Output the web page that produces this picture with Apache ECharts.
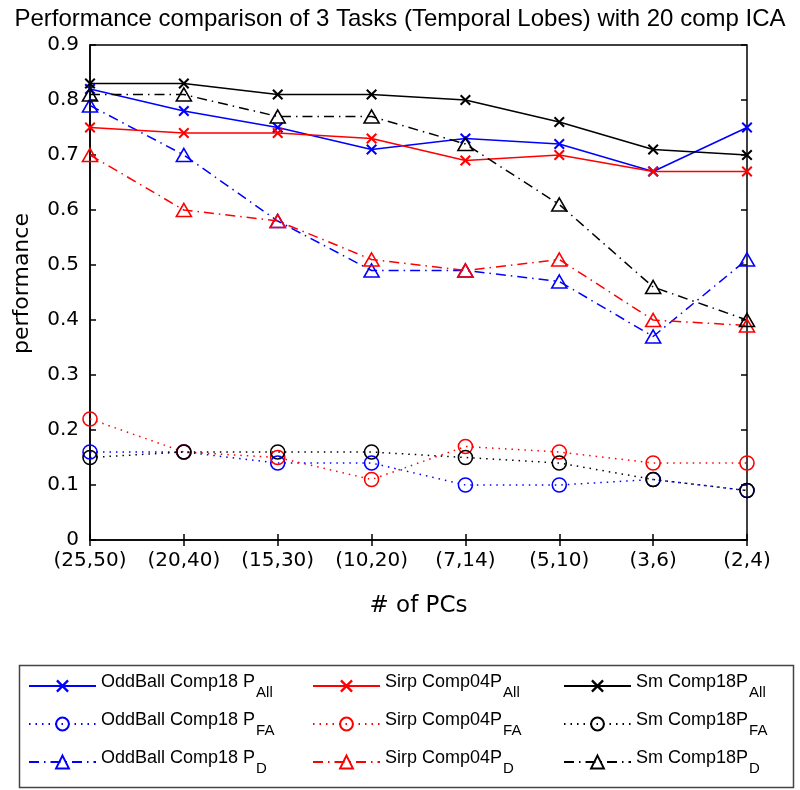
<!DOCTYPE html>
<html><head><meta charset="utf-8">
<script src="https://cdn.jsdelivr.net/npm/echarts@6/dist/echarts.min.js"></script>
<style>html,body{margin:0;padding:0;background:#fff}#c{width:800px;height:790px}</style>
</head><body><div id="c"></div>
<script>
const categories = ['(25,50)', '(20,40)', '(15,30)', '(10,20)', '(7,14)', '(5,10)', '(3,6)', '(2,4)'];
const yTickLabels = ['0', '0.1', '0.2', '0.3', '0.4', '0.5', '0.6', '0.7', '0.8', '0.9'];

const oddballAll = [0.82, 0.78, 0.75, 0.71, 0.73, 0.72, 0.67, 0.75];
const oddballFA  = [0.16, 0.16, 0.14, 0.14, 0.10, 0.10, 0.11, 0.09];
const oddballD   = [0.79, 0.70, 0.58, 0.49, 0.49, 0.47, 0.37, 0.51];
const sirpAll    = [0.75, 0.74, 0.74, 0.73, 0.69, 0.70, 0.67, 0.67];
const sirpFA     = [0.22, 0.16, 0.15, 0.11, 0.17, 0.16, 0.14, 0.14];
const sirpD      = [0.70, 0.60, 0.58, 0.51, 0.49, 0.51, 0.40, 0.39];
const smAll      = [0.83, 0.83, 0.81, 0.81, 0.80, 0.76, 0.71, 0.70];
const smFA       = [0.15, 0.16, 0.16, 0.16, 0.15, 0.14, 0.11, 0.09];
const smD        = [0.81, 0.81, 0.77, 0.77, 0.72, 0.61, 0.46, 0.40];

const legendCols = [
  ['OddBall Comp18 P_All', 'OddBall Comp18 P_FA', 'OddBall Comp18 P_D'],
  ['Sirp Comp04P_All', 'Sirp Comp04P_FA', 'Sirp Comp04P_D'],
  ['Sm Comp18P_All', 'Sm Comp18P_FA', 'Sm Comp18P_D']
];

const X_PATH = 'path://M0,1.3L1.3,0L5,3.7L8.7,0L10,1.3L6.3,5L10,8.7L8.7,10L5,6.3L1.3,10L0,8.7L3.7,5Z';
const DOTTED = [1.5, 5];
const DASHDOT = [10, 5, 1.5, 5];

function mk(name, data, color, kind) {
  const s = {
    name: name, type: 'line', data: data, showSymbol: true, showAllSymbol: true,
    xAxisIndex: 0, yAxisIndex: 0, animation: false,
    emphasis: { disabled: true }
  };
  if (kind === 'all') {
    s.symbol = X_PATH; s.symbolSize = 11;
    s.itemStyle = { color: color, borderWidth: 0 };
    s.lineStyle = { color: color, width: 1.6, type: 'solid' };
  } else if (kind === 'fa') {
    s.symbol = 'circle'; s.symbolSize = 14;
    s.itemStyle = { color: 'rgba(0,0,0,0)', borderColor: color, borderWidth: 1.6 };
    s.lineStyle = { color: color, width: 1.5, type: DOTTED };
  } else {
    s.symbol = 'triangle'; s.symbolSize = [15, 13];
    s.itemStyle = { color: 'rgba(0,0,0,0)', borderColor: color, borderWidth: 1.6 };
    s.lineStyle = { color: color, width: 1.5, type: DASHDOT };
  }
  return s;
}

const series = [
  mk(legendCols[0][0], oddballAll, '#0000ff', 'all'),
  mk(legendCols[0][1], oddballFA, '#0000ff', 'fa'),
  mk(legendCols[0][2], oddballD, '#0000ff', 'd'),
  mk(legendCols[1][0], sirpAll, '#ff0000', 'all'),
  mk(legendCols[1][1], sirpFA, '#ff0000', 'fa'),
  mk(legendCols[1][2], sirpD, '#ff0000', 'd'),
  mk(legendCols[2][0], smAll, '#000000', 'all'),
  mk(legendCols[2][1], smFA, '#000000', 'fa'),
  mk(legendCols[2][2], smD, '#000000', 'd')
];

const legendLeft = [28, 312, 563];
const legends = legendCols.map((names, i) => ({
  orient: 'vertical', left: legendLeft[i], top: 673, padding: 0,
  itemGap: 11, itemWidth: 67, itemHeight: 16, selectedMode: false,
  data: names,
  formatter: function (n) {
    const p = n.split('_');
    return '{m|' + p[0] + '}{s|' + p[1] + '}';
  },
  textStyle: {
    color: '#000',
    rich: {
      m: { fontFamily: 'Liberation Sans', fontSize: 18, color: '#000', padding: [0, 0, 8, 0] },
      s: { fontFamily: 'Liberation Sans', fontSize: 15, color: '#000', padding: [13, 0, 0, 1] }
    }
  }
}));

const tickFont = { fontFamily: 'DejaVu Sans', fontSize: 20, color: '#000' };

const option = {
  animation: false,
  backgroundColor: '#fff',
  title: {
    text: 'Performance comparison of 3 Tasks (Temporal Lobes) with 20 comp ICA',
    left: 'center', top: 2,
    textStyle: { fontFamily: 'Liberation Sans', fontSize: 24, fontWeight: 'normal', color: '#000' }
  },
  legend: legends,
  grid: {
    left: 90, top: 45, right: 53, bottom: 250,
    show: true, borderColor: '#000', borderWidth: 1.5, backgroundColor: 'rgba(0,0,0,0)'
  },
  xAxis: [{
    type: 'category', data: categories, boundaryGap: false, position: 'bottom',
    axisLine: { show: true, lineStyle: { color: '#000', width: 1.5 } },
    axisTick: { show: true, inside: true, length: 6, alignWithLabel: true, lineStyle: { color: '#000', width: 1.5 } },
    axisLabel: Object.assign({ margin: 11, interval: 0 }, tickFont),
    splitLine: { show: false },
    name: '# of PCs', nameLocation: 'middle', nameGap: 55,
    nameTextStyle: { fontFamily: 'DejaVu Sans', fontSize: 23, color: '#000' }
  }, {
    type: 'category', data: categories, boundaryGap: false, position: 'top',
    axisLine: { show: false },
    axisTick: { show: true, inside: true, length: 6, lineStyle: { color: '#000', width: 1.5 } },
    axisLabel: { show: false }, splitLine: { show: false }
  }],
  yAxis: [{
    type: 'value', min: 0, max: 0.9, interval: 0.1, position: 'left',
    axisLine: { show: true, lineStyle: { color: '#000', width: 1.5 } },
    axisTick: { show: true, inside: true, length: 6, lineStyle: { color: '#000', width: 1.5 } },
    axisLabel: Object.assign({ margin: 11, formatter: v => yTickLabels[Math.round(v * 10)] }, tickFont),
    splitLine: { show: false },
    name: 'performance', nameLocation: 'middle', nameGap: 57, nameRotate: 90,
    nameTextStyle: { fontFamily: 'DejaVu Sans', fontSize: 22, color: '#000', padding: [0, 0, 0, 18] }
  }, {
    type: 'value', min: 0, max: 0.9, interval: 0.1, position: 'right',
    axisLine: { show: false },
    axisTick: { show: true, inside: true, length: 6, lineStyle: { color: '#000', width: 1.5 } },
    axisLabel: { show: false }, splitLine: { show: false }
  }],
  graphic: [{
    type: 'rect', left: 17, top: 663, silent: true,
    shape: { width: 774, height: 122 },
    style: { fill: 'none', stroke: '#444', lineWidth: 1.5 }
  }],
  series: series
};

const chart = echarts.init(document.getElementById('c'), null, { renderer: 'canvas' });
chart.setOption(option);
</script>
</body></html>
